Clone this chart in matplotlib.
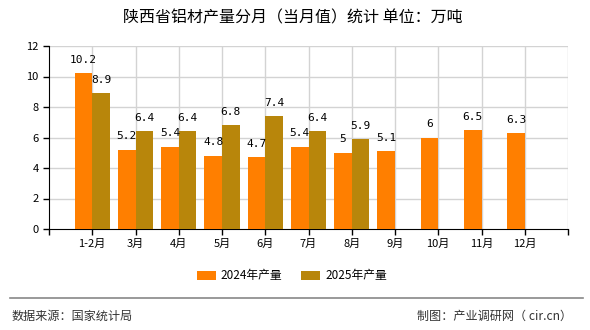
import matplotlib
matplotlib.use("Agg")
import matplotlib.pyplot as plt
import numpy as np

plt.rcParams['font.family'] = ['Noto Sans CJK SC', 'DejaVu Sans']

categories = ["1-2月", "3月", "4月", "5月", "6月", "7月", "8月", "9月", "10月", "11月", "12月"]
values_2024 = [10.2, 5.2, 5.4, 4.8, 4.7, 5.4, 5, 5.1, 6, 6.5, 6.3]
values_2025 = [8.9, 6.4, 6.4, 6.8, 7.4, 6.4, 5.9]
series_names = ["2024年产量", "2025年产量"]
title = "陕西省铝材产量分月（当月值）统计 单位：万吨"
source_text = "数据来源：国家统计局"
credit_text = "制图：产业调研网（ cir.cn）"

c2024 = "#FF7F00"
c2025 = "#B8860B"

fig = plt.figure(figsize=(5.9, 3.3), dpi=100)
ax = fig.add_axes([49/590, 1-229/330, (568-49)/590, (229-46)/330])

x = np.arange(1, len(categories)+1)
w = 0.41
b1 = ax.bar(x[:len(values_2024)] - w/2, values_2024, width=w, color=c2024, label=series_names[0], zorder=3)
b2 = ax.bar(x[:len(values_2025)] + w/2, values_2025, width=w, color=c2025, label=series_names[1], zorder=3)

def fmt(v):
    return f"{v:g}"

for bars, vals in ((b1, values_2024), (b2, values_2025)):
    for rect, v in zip(bars, vals):
        ax.annotate(fmt(v), (rect.get_x()+rect.get_width()/2, rect.get_height()),
                    xytext=(0, 6), textcoords='offset points', ha='center', va='bottom',
                    fontsize=8, family='DejaVu Sans Mono', zorder=4)

ax.set_xlim(0, len(categories)+1)
ax.set_ylim(0, 12)
ax.set_yticks(np.arange(0, 13, 2))
ax.set_xticks(np.arange(0, len(categories)+2))
ax.set_xticklabels([""] + categories + [""])
ax.tick_params(axis='both', labelsize=8, length=4, width=1, color='black')
ax.tick_params(axis='x', pad=3)

for y in range(2, 13, 2):
    ax.axhline(y, color='#D3D3D3', lw=1, zorder=1)
for xv in range(1, len(categories)+2):
    ax.axvline(xv, color='#D3D3D3', lw=1, zorder=1)

ax.spines['top'].set_visible(False)
ax.spines['right'].set_visible(False)
ax.spines['left'].set_color('black')
ax.spines['bottom'].set_color('black')

fig.text(293/590, 1-18/330, title, ha='center', va='center', fontsize=11.5)

fig.legend(handles=[b1, b2], labels=series_names, loc='center', bbox_to_anchor=(292/590, 1-276/330),
           ncol=2, frameon=False, fontsize=8.5, handlelength=1.6, handleheight=0.8,
           columnspacing=1.6, handletextpad=0.4)

fig.add_artist(plt.Line2D([10/590, 583/590], [1-298/330, 1-298/330], color='#888888', lw=1.2))
fig.text(12/590, 1-316/330, source_text, ha='left', va='center', fontsize=8.7, color='#333333')
fig.text(572/590, 1-316/330, credit_text, ha='right', va='center', fontsize=8.7, color='#333333')

fig.savefig("out.png", dpi=100)
